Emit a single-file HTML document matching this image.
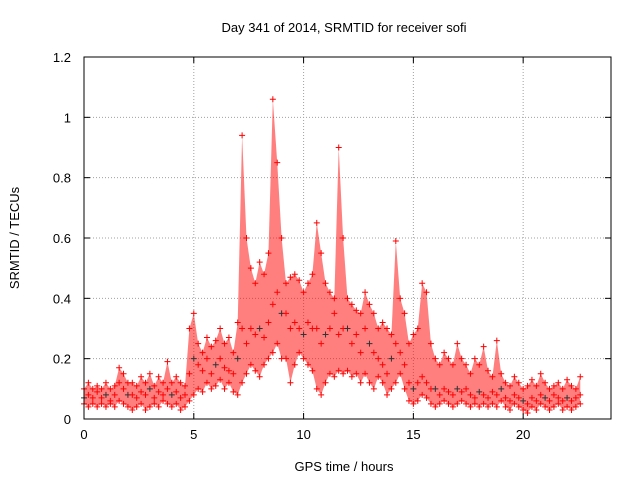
<!DOCTYPE html>
<html><head><meta charset="utf-8"><style>
body{margin:0;background:#fff}
svg{display:block;font-family:"Liberation Sans",sans-serif}
</style></head><body>
<svg id="chart" width="640" height="480" xmlns="http://www.w3.org/2000/svg">
<text x="344" y="32" text-anchor="middle" font-size="13">Day 341 of 2014, SRMTID for receiver sofi</text>
<text x="344" y="471" text-anchor="middle" font-size="13">GPS time / hours</text>
<text transform="translate(19,238) rotate(-90)" text-anchor="middle" font-size="13">SRMTID / TECUs</text>
<g id="grid"></g><g id="band"></g><g id="marks"></g><g id="axes"></g>
</svg>
<script>
const xTicks=[0,5,10,15,20];
const yTicks=[0,0.2,0.4,0.6,0.8,1,1.2];
const yTickLabels=["0","0.2","0.4","0.6","0.8","1","1.2"];
const timeStep=0.2;
const lowVals=[0.05,0.04,0.05,0.04,0.05,0.04,0.05,0.04,0.06,0.05,0.04,0.03,0.04,0.05,0.03,0.04,0.05,0.04,0.06,0.05,0.04,0.05,0.03,0.04,0.06,0.08,0.1,0.09,0.12,0.1,0.11,0.13,0.1,0.12,0.09,0.08,0.12,0.15,0.18,0.16,0.14,0.18,0.2,0.22,0.25,0.2,0.2,0.12,0.18,0.22,0.2,0.18,0.16,0.1,0.08,0.12,0.15,0.14,0.16,0.15,0.16,0.14,0.15,0.12,0.15,0.12,0.1,0.14,0.12,0.08,0.1,0.12,0.15,0.1,0.06,0.05,0.06,0.08,0.07,0.05,0.04,0.05,0.06,0.05,0.04,0.05,0.06,0.05,0.04,0.05,0.04,0.05,0.04,0.05,0.04,0.06,0.04,0.03,0.05,0.04,0.03,0.02,0.04,0.03,0.05,0.04,0.03,0.04,0.05,0.03,0.04,0.03,0.04,0.05];
const midVals=[0.07,0.08,0.07,0.09,0.07,0.08,0.06,0.08,0.12,0.1,0.08,0.08,0.07,0.09,0.08,0.1,0.07,0.09,0.08,0.1,0.08,0.09,0.07,0.08,0.15,0.2,0.18,0.16,0.2,0.15,0.18,0.2,0.17,0.16,0.15,0.2,0.3,0.25,0.3,0.28,0.3,0.27,0.32,0.38,0.42,0.35,0.35,0.3,0.32,0.3,0.28,0.32,0.3,0.3,0.25,0.28,0.3,0.35,0.28,0.3,0.3,0.25,0.28,0.22,0.3,0.25,0.22,0.2,0.18,0.15,0.2,0.25,0.22,0.18,0.12,0.1,0.12,0.14,0.12,0.1,0.1,0.08,0.1,0.09,0.08,0.1,0.09,0.1,0.08,0.07,0.09,0.08,0.07,0.09,0.08,0.1,0.07,0.06,0.08,0.07,0.06,0.05,0.07,0.06,0.08,0.07,0.06,0.08,0.07,0.06,0.07,0.06,0.07,0.08];
const highVals=[0.1,0.12,0.1,0.11,0.1,0.12,0.1,0.11,0.17,0.15,0.12,0.12,0.11,0.14,0.12,0.15,0.11,0.14,0.12,0.19,0.12,0.14,0.12,0.11,0.3,0.35,0.25,0.22,0.27,0.24,0.26,0.3,0.25,0.27,0.22,0.32,0.94,0.6,0.5,0.45,0.52,0.48,0.55,1.06,0.85,0.6,0.45,0.47,0.48,0.46,0.42,0.45,0.48,0.65,0.55,0.45,0.42,0.4,0.9,0.6,0.4,0.38,0.36,0.35,0.42,0.38,0.35,0.3,0.32,0.3,0.28,0.59,0.4,0.35,0.25,0.28,0.3,0.45,0.42,0.25,0.2,0.18,0.22,0.2,0.18,0.25,0.2,0.18,0.15,0.2,0.18,0.24,0.16,0.14,0.26,0.15,0.12,0.11,0.14,0.12,0.1,0.11,0.13,0.11,0.15,0.12,0.1,0.11,0.12,0.1,0.13,0.11,0.1,0.14];
const NS="http://www.w3.org/2000/svg";
const L=84,R=611,T=57,B=419;
const xs=v=>L+v/24*(R-L);
const ys=v=>B-v/1.2*(B-T);
function mk(tag,attrs,parent){const e=document.createElementNS(NS,tag);for(const k in attrs)e.setAttribute(k,attrs[k]);parent.appendChild(e);return e;}
const grid=document.getElementById('grid'),axes=document.getElementById('axes'),marks=document.getElementById('marks'),band=document.getElementById('band');
xTicks.forEach(t=>{const x=xs(t);
 if(t>0){const g=mk('line',{x1:x,x2:x,y1:T,y2:B,stroke:'#a0a0a0','stroke-dasharray':'1,2'},grid);
 
 }
 mk('line',{x1:x,x2:x,y1:B,y2:B-6,stroke:'#000'},axes);mk('line',{x1:x,x2:x,y1:T,y2:T+6,stroke:'#000'},axes);
 const tx=mk('text',{x:x,y:B+20,'text-anchor':'middle','font-size':13},axes);tx.textContent=t;
 
 });
yTicks.forEach((t,i)=>{const y=ys(t);
 if(t>0&&t<1.2){const g=mk('line',{x1:L,x2:R,y1:y,y2:y,stroke:'#a0a0a0','stroke-dasharray':'1,2'},grid);
 
 }
 mk('line',{x1:L,x2:L+6,y1:y,y2:y,stroke:'#000'},axes);mk('line',{x1:R,x2:R-6,y1:y,y2:y,stroke:'#000'},axes);
 const tx=mk('text',{x:L-13,y:y+5,'text-anchor':'end','font-size':13},axes);tx.textContent=yTickLabels[i];
 
 });
const fr=mk('rect',{x:L,y:T,width:R-L,height:B-T,fill:'none',stroke:'#000'},axes);


let pts=[];
highVals.forEach((v,i)=>pts.push(xs(i*timeStep)+','+ys(v)));
for(let i=lowVals.length-1;i>=0;i--)pts.push(xs(i*timeStep)+','+ys(lowVals[i]));
const bp=mk('polygon',{points:pts.join(' '),fill:'rgba(255,0,0,0.5)',stroke:'none'},band);


function plus(x,y,c){const p=mk('path',{d:`M${x-3},${y}h6M${x},${y-3}v6`,stroke:c,'stroke-width':1,fill:'none'},marks);return p;}
[lowVals,midVals,highVals].forEach((arr,si)=>arr.forEach((v,i)=>{
 const p=plus(xs(i*timeStep),ys(v),si===1&&i%5===0?'#333':'#ff0000');
 
 }));
</script>
</body></html>
